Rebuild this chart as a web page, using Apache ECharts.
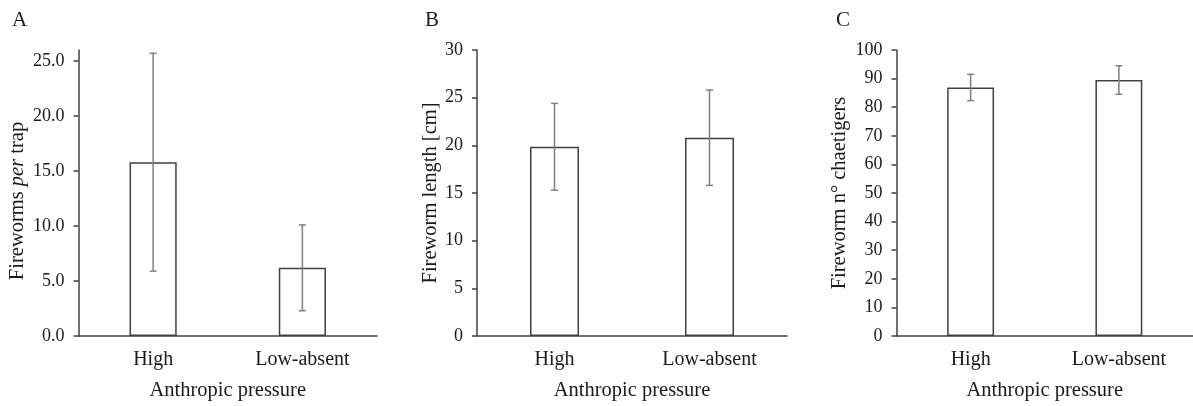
<!DOCTYPE html>
<html>
<head>
<meta charset="UTF-8">
<title>fireworms</title>
<script src="https://cdn.jsdelivr.net/npm/echarts@6/dist/echarts.min.js"></script>
<style>
	html, body { margin: 0; padding: 0; background: #fff; }
	#chart { width: 1193px; height: 406px; }
</style>
</head>
<body>
<div id="chart"></div>
<script>
	var categories = ['High', 'Low-absent'];

	// A: fireworms per trap
	var trapMean = [15.8, 6.2];
	var trapErr = [9.9, 3.9];
	var trapTicks = [0, 5, 10, 15, 20, 25];

	// B: fireworm length [cm]
	var lengthMean = [19.85, 20.8];
	var lengthErr = [4.55, 5.0];
	var lengthTicks = [0, 5, 10, 15, 20, 25, 30];

	// C: n° chaetigers
	var chaetMean = [86.9, 89.5];
	var chaetErr = [4.6, 5.0];
	var chaetTicks = [0, 10, 20, 30, 40, 50, 60, 70, 80, 90, 100];

	var FONT = '"Liberation Serif", "Times New Roman", serif';
	var TXT = '#1a1a1a';
	var AXC = '#404040';

	function errData(mean, err) {
		var out = [];
		for (var i = 0; i < mean.length; i++) {
			out.push([i, mean[i] - err[i], mean[i] + err[i]]);
		}
		return out;
	}

	function renderErr(params, api) {
		var lo = api.coord([api.value(0), api.value(1)]);
		var hi = api.coord([api.value(0), api.value(2)]);
		var st = { stroke: '#7f7f7f', lineWidth: 1.5 };
		var c = 3.5;
		return {
			type: 'group',
			children: [
				{ type: 'line', shape: { x1: lo[0], y1: lo[1], x2: hi[0], y2: hi[1] }, style: st },
				{ type: 'line', shape: { x1: hi[0] - c, y1: hi[1], x2: hi[0] + c, y2: hi[1] }, style: st },
				{ type: 'line', shape: { x1: lo[0] - c, y1: lo[1], x2: lo[0] + c, y2: lo[1] }, style: st }
			]
		};
	}

	function xAx(idx) {
		return {
			type: 'category', gridIndex: idx, data: categories,
			name: 'Anthropic pressure', nameLocation: 'middle', nameGap: 44,
			nameTextStyle: { fontFamily: FONT, fontSize: 20.5, color: TXT },
			axisLine: { lineStyle: { color: AXC, width: 1.5 } },
			axisTick: { show: false },
			axisLabel: { fontFamily: FONT, fontSize: 20, color: TXT, margin: 14 }
		};
	}

	function yAx(idx, max, ticks, name, gap, dec, pad) {
		return {
			type: 'value', gridIndex: idx, min: 0, max: max,
			name: name, nameLocation: 'middle', nameGap: gap,
			nameTextStyle: {
				fontFamily: FONT, fontSize: 20.5, color: TXT, padding: pad,
				rich: {
					n: { fontFamily: FONT, fontSize: 20.5, color: TXT },
					i: { fontFamily: FONT, fontSize: 20.5, color: TXT, fontStyle: 'italic' }
				}
			},
			splitLine: { show: false },
			axisLine: { show: true, lineStyle: { color: AXC, width: 1.5 } },
			axisTick: { show: true, length: 5, customValues: ticks, lineStyle: { color: AXC, width: 1.5 } },
			axisLabel: {
				customValues: ticks, fontFamily: FONT, fontSize: 18, color: TXT, margin: 14,
				formatter: function (v) { return dec ? v.toFixed(1) : String(v); }
			}
		};
	}

	function barSeries(idx, data) {
		return {
			type: 'bar', xAxisIndex: idx, yAxisIndex: idx, data: data, barWidth: '31.6%',
			itemStyle: { color: '#ffffff', borderColor: AXC, borderWidth: 1.5 },
			silent: true
		};
	}

	function errSeries(idx, mean, err) {
		return {
			type: 'custom', xAxisIndex: idx, yAxisIndex: idx,
			data: errData(mean, err), renderItem: renderErr, silent: true, z: 5
		};
	}

	function letter(t, x) {
		return {
			text: t, left: x, top: 10, padding: 0,
			textStyle: { fontFamily: FONT, fontSize: 21, fontWeight: 'normal', color: TXT }
		};
	}

	var myChart = echarts.init(document.getElementById('chart'));
	var option = {
		animation: false,
		backgroundColor: '#fff',
		title: [letter('A', 12), letter('B', 425), letter('C', 836)],
		grid: [
			{ left: 78.5, top: 50, width: 298.5, height: 288.5 },
			{ left: 477, top: 50, width: 310, height: 288.5 },
			{ left: 896.5, top: 50, width: 303, height: 288.5 }
		],
		xAxis: [xAx(0), xAx(1), xAx(2)],
		yAxis: [
			yAx(0, 26, trapTicks, '{n|Fireworms }{i|per}{n| trap}', 50, true, [0, 16, 0, 0]),
			yAx(1, 30, lengthTicks, 'Fireworm length [cm]', 36, false, [0, 0, 0, 0]),
			yAx(2, 100, chaetTicks, 'Fireworm n° chaetigers', 46, false, [0, 0, 0, 0])
		],
		series: [
			barSeries(0, trapMean), errSeries(0, trapMean, trapErr),
			barSeries(1, lengthMean), errSeries(1, lengthMean, lengthErr),
			barSeries(2, chaetMean), errSeries(2, chaetMean, chaetErr)
		]
	};
	myChart.setOption(option);
</script>
</body>
</html>
